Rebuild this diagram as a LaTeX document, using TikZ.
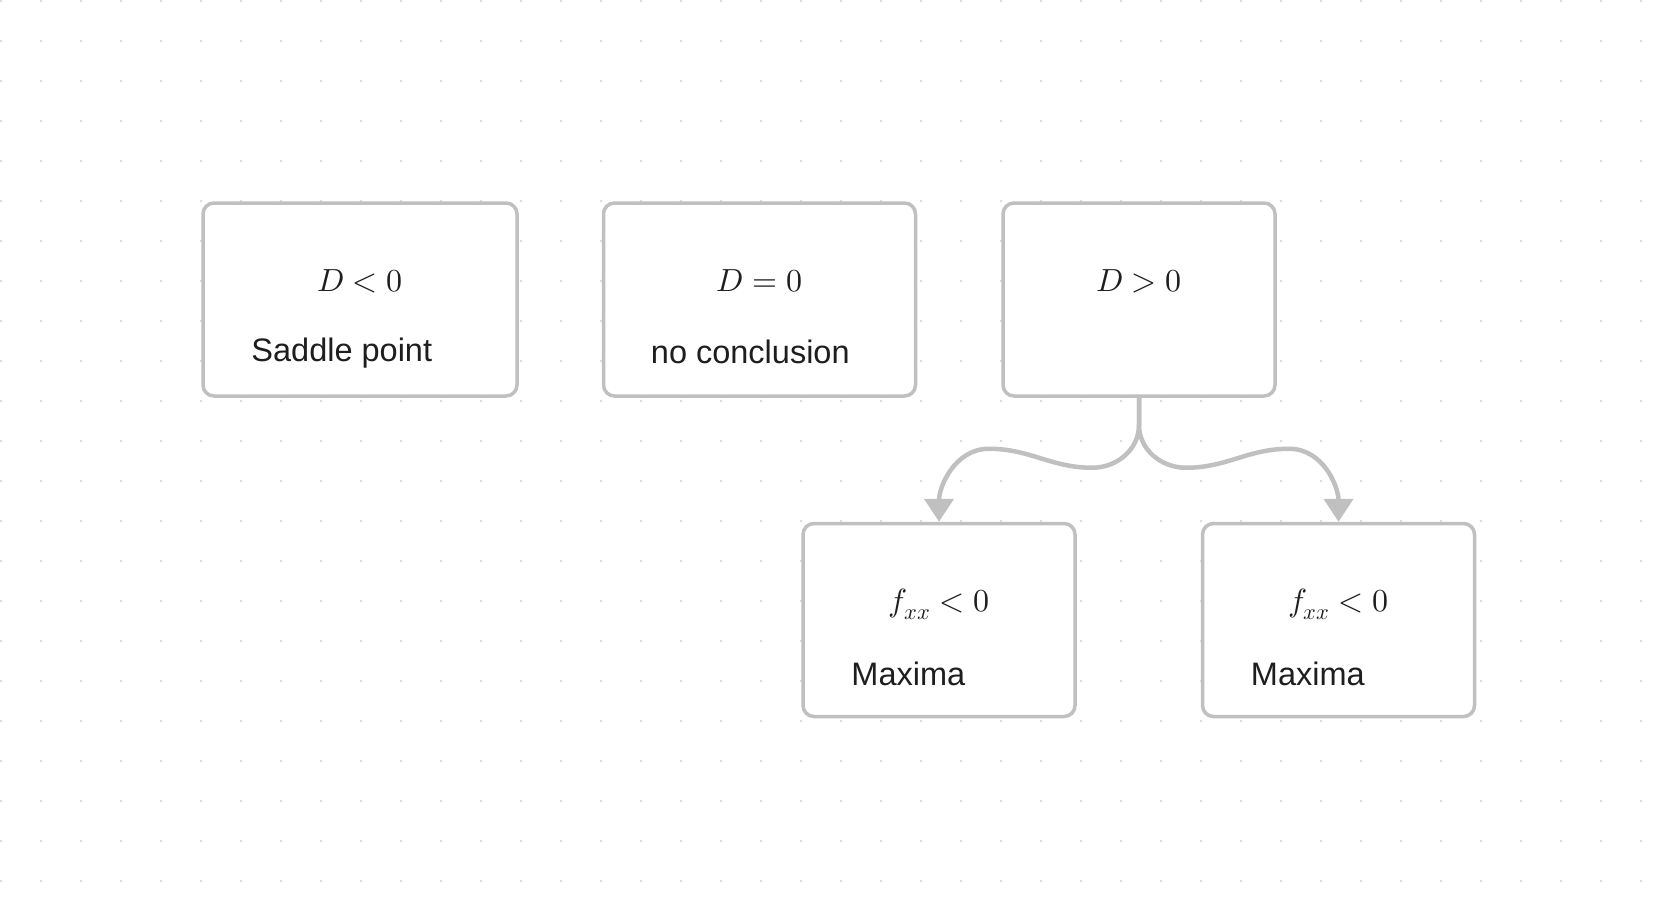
\documentclass[tikz,border=0pt]{standalone}
\usepackage{fontspec}
\usepackage{unicode-math}
\setmathfont{Latin Modern Math}
\newfontfamily\uifont{Liberation Sans}
\usetikzlibrary{positioning, arrows.meta}

\definecolor{edgegray}{HTML}{C0C0C0}
\definecolor{dotgray}{HTML}{DADADA}
\definecolor{inkdark}{HTML}{1E1E1E}

\begin{document}
\begin{tikzpicture}[x=1pt, y=-1pt]
\tikzset{
    card/.style={rectangle, rounded corners=11pt, draw=edgegray, line width=3.5pt, fill=white, minimum height=193pt, minimum width=272pt},
    formula/.style={anchor=base, inner sep=0pt, text=inkdark, font=\fontsize{32}{38}\selectfont},
    verdict/.style={anchor=base west, inner sep=0pt, text=inkdark, font=\uifont\fontsize{32.5}{38}\selectfont},
    branch/.style={draw=edgegray, line width=4.5pt, -{Triangle[width=29pt, length=23pt]}}
}

\useasboundingbox (0,0) rectangle (1680,920);
\fill[white] (0,0) rectangle (1680,920);

% grid
\foreach \i in {0,...,41} {
    \foreach \j in {0,...,22} {
        \fill[dotgray] (1+40*\i, 1+40*\j) circle (1.4pt);
    }
}

% nodes
\node[card, minimum width=314pt] (dneg)   at (360,299.5) {};
\node[card, minimum width=312pt, right=83pt of dneg] (dzero) {};
\node[card, right=84pt of dzero]                     (dpos)  {};
\node[card, below=124pt of dpos, xshift=-200pt]      (fleft) {};
\node[card, right=124pt of fleft]                    (fright) {};

% labels
\node[formula] (dnegm)   at ([yshift=-90pt]dneg.north)   {$D < 0$};
\node[verdict] (dnegt)   at ([xshift=50pt, yshift=-160pt]dneg.north west)  {Saddle point};
\node[formula] (dzerom)  at ([yshift=-90pt]dzero.north)  {$D = 0$};
\node[verdict] (dzerot)  at ([xshift=49pt, yshift=-162pt]dzero.north west) {no conclusion};
\node[formula] (dposm)   at ([yshift=-90pt]dpos.north)   {$D > 0$};
\node[formula] (fleftm)  at ([yshift=-90pt]fleft.north)  {$f_{xx} < 0$};
\node[verdict] (fleftt)  at ([xshift=50pt, yshift=-164pt]fleft.north west) {Maxima};
\node[formula] (frightm) at ([yshift=-90pt]fright.north) {$f_{xx} < 0$};
\node[verdict] (frightt) at ([xshift=50pt, yshift=-164pt]fright.north west) {Maxima};

% arrows
\draw[branch] (dpos.south) -- ++(0,27) to[out=-90, in=0] ++(-47,43)
    to[out=180, in=0] ++(-103,-19) to[out=180, in=90] (fleft.north);
\draw[branch] (dpos.south) -- ++(0,27) to[out=-90, in=180] ++(47,43)
    to[out=0, in=180] ++(103,-19) to[out=0, in=90] (fright.north);

\end{tikzpicture}
\end{document}
